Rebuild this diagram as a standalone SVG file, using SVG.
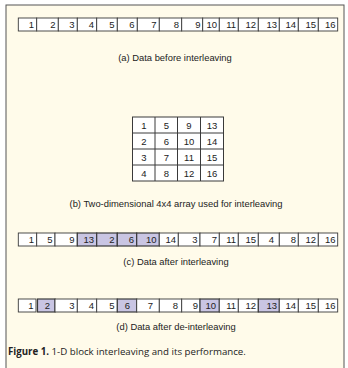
<svg xmlns="http://www.w3.org/2000/svg" width="348" height="368" viewBox="0 0 348 368">
<style>
.c{fill:#ffffff;stroke:#3a3a3a;stroke-width:0.9}
.s{fill:#c9c5e3;stroke:#3a3a3a;stroke-width:1.2}
.n{font-family:"Liberation Sans",Arial,sans-serif;font-size:9.5px;fill:#222;text-anchor:end}
.g{font-family:"Liberation Sans",Arial,sans-serif;font-size:9.5px;fill:#222;text-anchor:middle}
.cap{font-family:"Liberation Sans",Arial,sans-serif;font-size:9.4px;fill:#222;text-anchor:middle}
.fig{font-family:"Open Sans","Liberation Sans",sans-serif;font-size:9.7px;fill:#222}
</style>
<rect x="6" y="5" width="338" height="370" fill="#fffbea" stroke="#555" stroke-width="1"/>
<g id="rowA">
<rect class="c" x="18.3" y="18" width="18.4" height="13"/><text class="n" x="34" y="28">1</text>
<rect class="c" x="36.7" y="18" width="21.6" height="13"/><text class="n" x="55.5" y="28">2</text>
<rect class="c" x="58.3" y="18" width="19" height="13"/><text class="n" x="74.5" y="28">3</text>
<rect class="c" x="77.3" y="18" width="19.4" height="13"/><text class="n" x="94" y="28">4</text>
<rect class="c" x="96.7" y="18" width="20.6" height="13"/><text class="n" x="114.5" y="28">5</text>
<rect class="c" x="117.3" y="18" width="20" height="13"/><text class="n" x="134.5" y="28">6</text>
<rect class="c" x="137.3" y="18" width="22" height="13"/><text class="n" x="156.5" y="28">7</text>
<rect class="c" x="159.3" y="18" width="22.4" height="13"/><text class="n" x="179" y="28">8</text>
<rect class="c" x="181.7" y="18" width="21" height="13"/><text class="n" x="200.5" y="28">9</text>
<rect class="c" x="202.7" y="18" width="16.6" height="13"/><text class="n" x="217" y="28">10</text>
<rect class="c" x="219.3" y="18" width="19" height="13"/><text class="n" x="236" y="28">11</text>
<rect class="c" x="238.3" y="18" width="20" height="13"/><text class="n" x="256" y="28">12</text>
<rect class="c" x="258.3" y="18" width="21" height="13"/><text class="n" x="277" y="28">13</text>
<rect class="c" x="279.3" y="18" width="19" height="13"/><text class="n" x="296" y="28">14</text>
<rect class="c" x="298.3" y="18" width="20" height="13"/><text class="n" x="316" y="28">15</text>
<rect class="c" x="318.3" y="18" width="19.4" height="13"/><text class="n" x="335.5" y="28">16</text>
</g>
<text class="cap" x="175" y="61">(a)  Data  before interleaving</text>
<g id="grid">
<rect x="132.5" y="117" width="91" height="64" fill="#fff" stroke="#3a3a3a" stroke-width="1"/>
<path d="M155 117V181M177.5 117V181M200.5 117V181M132.5 133H223.5M132.5 149H223.5M132.5 165H223.5" stroke="#3a3a3a" stroke-width="1" fill="none"/>
<text class="g" x="144" y="128.5">1</text><text class="g" x="166.5" y="128.5">5</text><text class="g" x="189" y="128.5">9</text><text class="g" x="212" y="128.5">13</text>
<text class="g" x="144" y="144.5">2</text><text class="g" x="166.5" y="144.5">6</text><text class="g" x="189" y="144.5">10</text><text class="g" x="212" y="144.5">14</text>
<text class="g" x="144" y="160.5">3</text><text class="g" x="166.5" y="160.5">7</text><text class="g" x="189" y="160.5">11</text><text class="g" x="212" y="160.5">15</text>
<text class="g" x="144" y="176.5">4</text><text class="g" x="166.5" y="176.5">8</text><text class="g" x="189" y="176.5">12</text><text class="g" x="212" y="176.5">16</text>
</g>
<text class="cap" x="176" y="207">(b)  Two-dimensional 4x4 array used for interleaving</text>
<g id="rowC">
<rect class="c" x="18.3" y="233" width="18.4" height="13"/><text class="n" x="34" y="243">1</text>
<rect class="c" x="36.7" y="233" width="18.3" height="13"/><text class="n" x="52.5" y="243">5</text>
<rect class="c" x="55" y="233" width="22.3" height="13"/><text class="n" x="74.5" y="243">9</text>
<rect class="s" x="77.3" y="233" width="19.4" height="13"/><text class="n" x="94" y="243">13</text>
<rect class="s" x="96.7" y="233" width="20.6" height="13"/><text class="n" x="114.5" y="243">2</text>
<rect class="s" x="117.3" y="233" width="19.4" height="13"/><text class="n" x="134" y="243">6</text>
<rect class="s" x="136.7" y="233" width="22.6" height="13"/><text class="n" x="156.5" y="243">10</text>
<rect class="c" x="159.3" y="233" width="19" height="13"/><text class="n" x="176" y="243">14</text>
<rect class="c" x="178.3" y="233" width="21.7" height="13"/><text class="n" x="197.5" y="243">3</text>
<rect class="c" x="200" y="233" width="19.3" height="13"/><text class="n" x="217" y="243">7</text>
<rect class="c" x="219.3" y="233" width="19" height="13"/><text class="n" x="236" y="243">11</text>
<rect class="c" x="238.3" y="233" width="20" height="13"/><text class="n" x="256" y="243">15</text>
<rect class="c" x="258.3" y="233" width="21" height="13"/><text class="n" x="274" y="243">4</text>
<rect class="c" x="279.3" y="233" width="19" height="13"/><text class="n" x="296" y="243">8</text>
<rect class="c" x="298.3" y="233" width="20" height="13"/><text class="n" x="316" y="243">12</text>
<rect class="c" x="318.3" y="233" width="19.4" height="13"/><text class="n" x="335.5" y="243">16</text>
</g>
<text class="cap" x="176" y="265">(c)  Data after interleaving</text>
<g id="rowD">
<rect class="c" x="18.3" y="299" width="17.7" height="13"/><text class="n" x="33.5" y="309">1</text>
<rect class="s" x="37.5" y="299" width="17.5" height="13"/><text class="n" x="50" y="309">2</text>
<rect class="c" x="55" y="299" width="22.3" height="13"/><text class="n" x="74.5" y="309">3</text>
<rect class="c" x="77.3" y="299" width="19.4" height="13"/><text class="n" x="94" y="309">4</text>
<rect class="c" x="96.7" y="299" width="20.6" height="13"/><text class="n" x="114.5" y="309">5</text>
<rect class="s" x="117.3" y="299" width="19.4" height="13"/><text class="n" x="130" y="309">6</text>
<rect class="c" x="136.7" y="299" width="22.6" height="13"/><text class="n" x="153" y="309">7</text>
<rect class="c" x="159.3" y="299" width="22.4" height="13"/><text class="n" x="178" y="309">8</text>
<rect class="c" x="181.7" y="299" width="18.3" height="13"/><text class="n" x="198" y="309">9</text>
<rect class="s" x="200" y="299" width="19.3" height="13"/><text class="n" x="216" y="309">10</text>
<rect class="c" x="219.3" y="299" width="19" height="13"/><text class="n" x="236" y="309">11</text>
<rect class="c" x="238.3" y="299" width="20" height="13"/><text class="n" x="256" y="309">12</text>
<rect class="s" x="258.3" y="299" width="21" height="13"/><text class="n" x="277" y="309">13</text>
<rect class="c" x="279.3" y="299" width="19" height="13"/><text class="n" x="296" y="309">14</text>
<rect class="c" x="298.3" y="299" width="20" height="13"/><text class="n" x="316" y="309">15</text>
<rect class="c" x="318.3" y="299" width="19.4" height="13"/><text class="n" x="335.5" y="309">16</text>
</g>
<text class="cap" x="176" y="330">(d)  Data after de-interleaving</text>
<text class="fig" x="8" y="355"><tspan font-weight="bold">Figure 1.</tspan> 1-D block interleaving and its performance.</text>
</svg>
